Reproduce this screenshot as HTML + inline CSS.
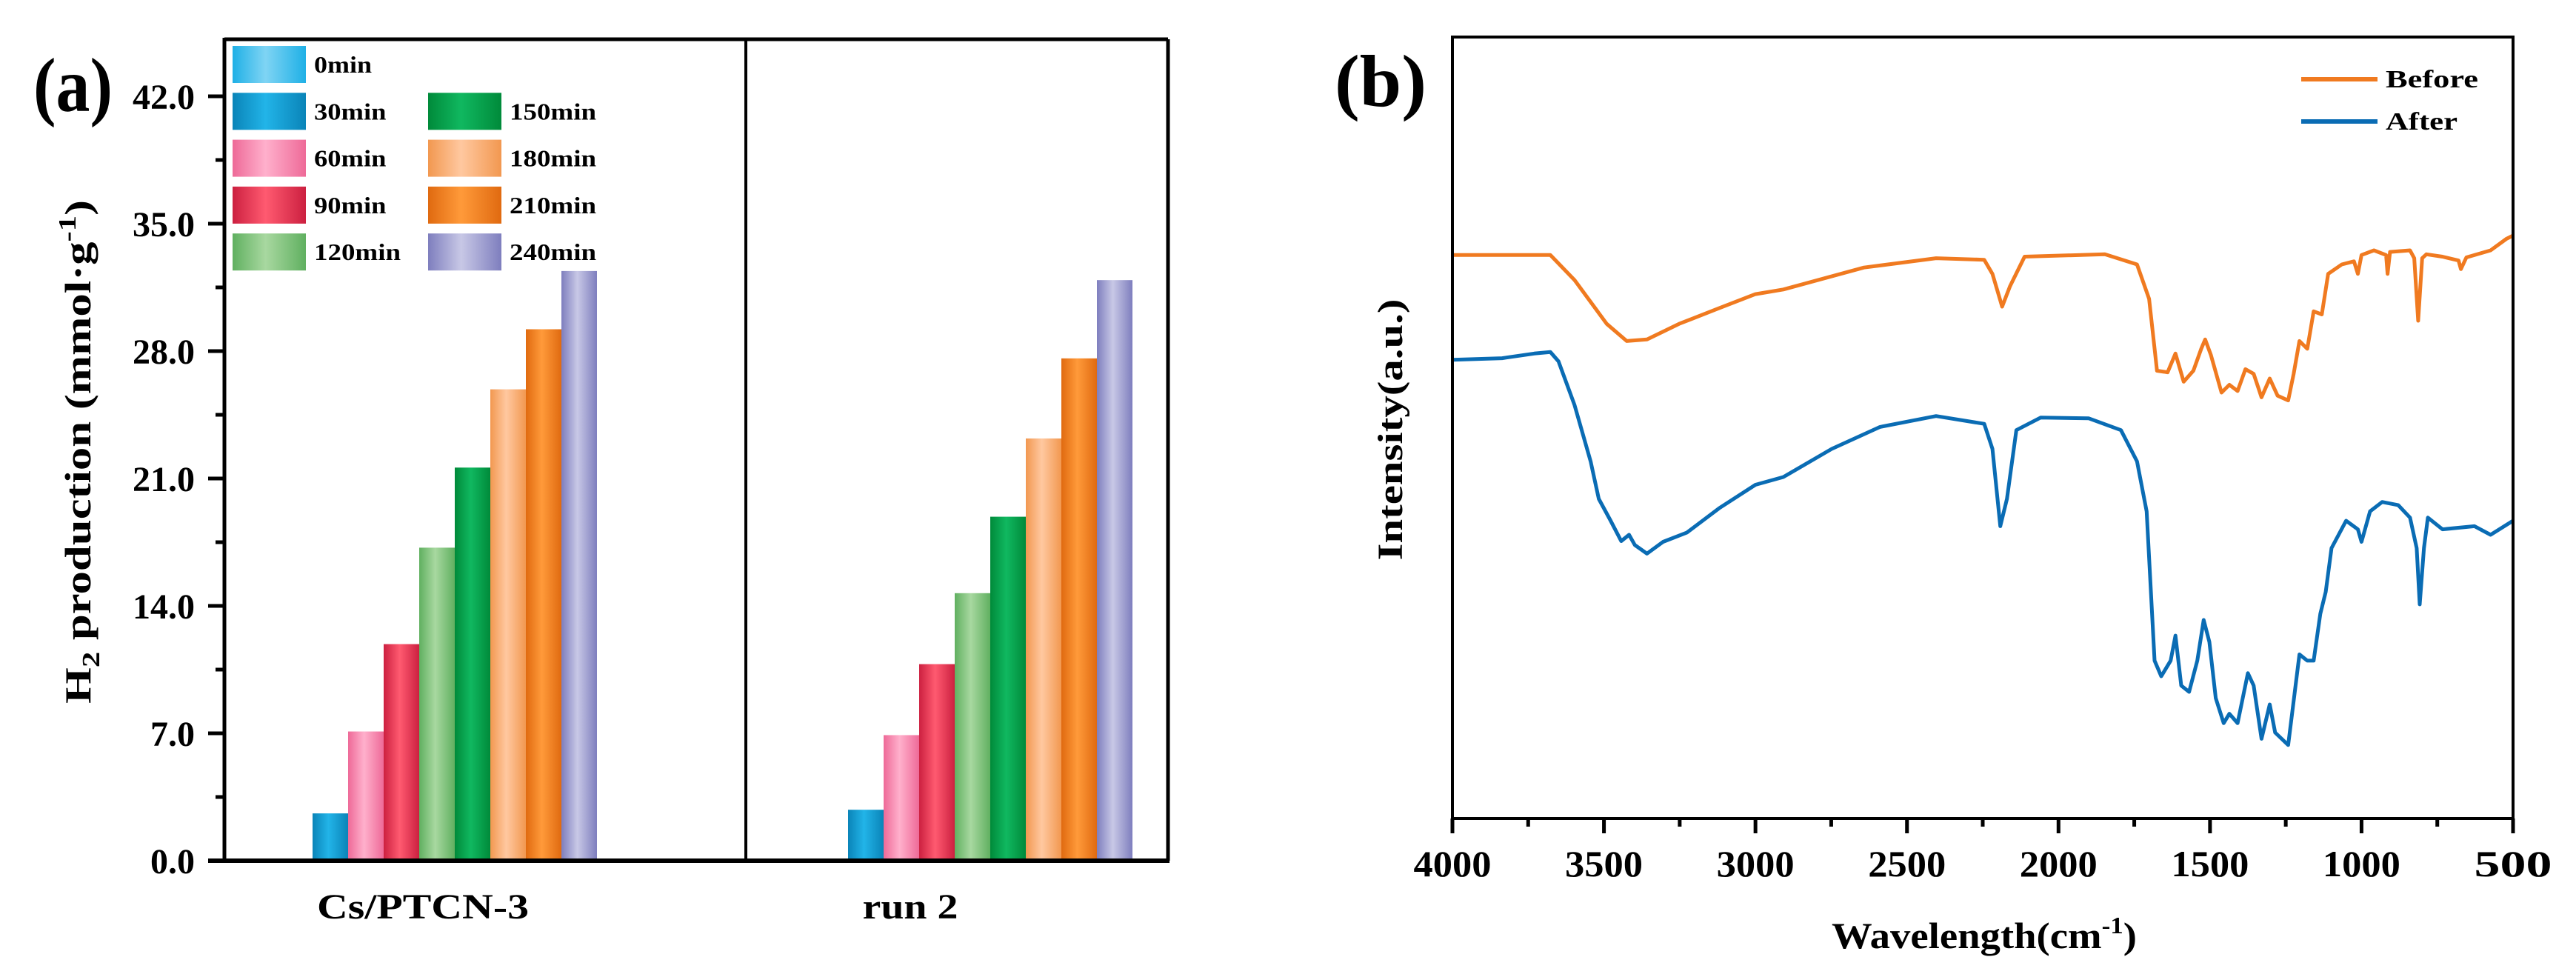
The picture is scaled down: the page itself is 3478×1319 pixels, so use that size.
<!DOCTYPE html>
<html><head><meta charset="utf-8"><style>
html,body{margin:0;padding:0;background:#fff;}
svg{display:block;}
text{font-family:"Liberation Serif",serif;font-weight:bold;fill:#000;}
</style></head><body>
<svg id="fig" width="3478" height="1319" viewBox="0 0 3478 1319" xmlns="http://www.w3.org/2000/svg">
<defs id="defs"></defs>
<g id="panelA"></g>
<g id="panelB"></g>
</svg>
<script>
// ---------- Panel (a) data ----------
const categories = ["Cs/PTCN-3", "run 2"];
const seriesNames = ["0min","30min","60min","90min","120min","150min","180min","210min","240min"];
const valuesRun1 = [0, 2.6, 7.1, 11.9, 17.2, 21.6, 25.9, 29.2, 32.4];
const valuesRun2 = [0, 2.8, 6.9, 10.8, 14.7, 18.9, 23.2, 27.6, 31.9];
const yTicksA = [0, 7, 14, 21, 28, 35, 42];
const yTickLabelsA = ["0.0","7.0","14.0","21.0","28.0","35.0","42.0"];

// ---------- Panel (b) data ----------
const xTicksB = [4000,3500,3000,2500,2000,1500,1000,500];
const beforeWn = [4000,3677,3597,3491,3425,3358,3252,3120,3000,2908,2642,2404,2245,2218,2186,2160,2112,1847,1741,1701,1675,1640,1614,1587,1555,1529,1516,1497,1462,1436,1409,1383,1356,1330,1303,1277,1242,1224,1205,1179,1158,1131,1110,1065,1025,1012,1000,959,919,914,906,840,826,813,800,786,733,680,672,654,574,521,500];
const beforeVal = [72.1,72.1,68.9,63.3,61.1,61.3,63.3,65.3,67.1,67.7,70.5,71.7,71.5,69.7,65.5,68.1,71.9,72.2,70.9,66.5,57.3,57.1,59.5,55.9,57.3,60.1,61.3,59.3,54.5,55.5,54.7,57.5,56.9,53.9,56.3,54.1,53.5,56.9,61.1,60.1,64.9,64.5,69.7,70.9,71.3,69.7,72.1,72.7,72.1,69.7,72.5,72.7,71.7,63.7,71.7,72.2,71.9,71.4,70.3,71.8,72.7,74.2,74.6];
const afterWn = [4000,3836,3730,3677,3650,3597,3544,3517,3478,3443,3417,3398,3358,3305,3226,3120,3000,2908,2748,2589,2404,2245,2218,2192,2170,2139,2059,1900,1794,1741,1709,1683,1661,1630,1614,1595,1569,1542,1521,1502,1481,1455,1436,1409,1375,1356,1330,1303,1285,1242,1205,1179,1158,1136,1118,1099,1051,1012,1000,972,932,879,840,818,808,794,781,733,627,574,500];
const afterVal = [58.7,58.9,59.5,59.7,58.5,52.9,45.7,40.9,38.1,35.5,36.3,35.0,33.9,35.4,36.6,39.7,42.7,43.7,47.3,50.1,51.5,50.5,47.3,37.4,40.9,49.7,51.3,51.2,49.7,45.7,39.3,20.2,18.2,20.2,23.4,17.0,16.2,20.2,25.4,22.6,15.4,12.2,13.4,12.2,18.6,17.0,10.2,14.6,11.0,9.4,21.0,20.2,20.2,26.2,29.0,34.6,38.1,37.0,35.4,39.3,40.5,40.1,38.5,34.6,27.4,34.6,38.5,37.0,37.4,36.3,38.1];

const NS = "http://www.w3.org/2000/svg";
function mk(tag, attrs, parent){ const e=document.createElementNS(NS,tag); for(const k in attrs) e.setAttribute(k,attrs[k]); if(parent) parent.appendChild(e); return e; }

// ---------- Panel (a) ----------
const A = document.getElementById('panelA');
const defs = document.getElementById('defs');
const colors = [["#7fd4f4","#1fb0e6"],["#22b4e8","#0a84b8"],["#ffb0cc","#ee6a98"],["#ff5a70","#cc2040"],["#a8d8a0","#60b060"],["#10b860","#008a3a"],["#ffc8a0","#f29850"],["#ff9a3a","#e06a10"],["#c8c8e6","#7e7ebe"]];
colors.forEach((c,i)=>{
  const g = mk('linearGradient',{id:'g'+i,x1:'0',x2:'1',y1:'0',y2:'0'},defs);
  mk('stop',{offset:'0','stop-color':c[1]},g);
  mk('stop',{offset:'0.45','stop-color':c[0]},g);
  mk('stop',{offset:'1','stop-color':c[1]},g);
});
const aL=303, aR=1577, aTop=53, aBot=1162;
const yA = v => aBot - v*(172/7);
const catCenter = i => 590 + i*723;
const barW = 48;

[valuesRun1, valuesRun2].forEach((vals,ci)=>{
  vals.forEach((v,j)=>{
    if(v<=0) return;
    const x = catCenter(ci) - seriesNames.length*barW/2 + j*barW;
    const r = mk('rect',{x:x,y:yA(v),width:barW,height:aBot-yA(v),fill:'url(#g'+j+')'},A);
    
    
  });
});
mk('line',{x1:aL,y1:aTop,x2:aR,y2:aTop,stroke:'#000','stroke-width':5,},A);
mk('line',{x1:aR,y1:aTop,x2:aR,y2:aBot,stroke:'#000','stroke-width':5,},A);
mk('line',{x1:1007,y1:aTop,x2:1007,y2:aBot,stroke:'#000','stroke-width':4,},A);
mk('line',{x1:aL,y1:aTop-2,x2:aL,y2:aBot+3,stroke:'#000','stroke-width':5,},A);
mk('line',{x1:aL-22,y1:aBot,x2:aR+2,y2:aBot,stroke:'#000','stroke-width':6,},A);
yTicksA.forEach((t,i)=>{
  const y=yA(t);
  const tk = mk('line',{x1:aL-22,y1:y,x2:aL,y2:y,stroke:'#000','stroke-width':5},A);
  
  
  const lab = mk('text',{x:263,y:y+17,'font-size':48,'text-anchor':'end'},A);
  lab.textContent = yTickLabelsA[i];
  
  
  if(i<yTicksA.length-1){
    const ym=yA(t+3.5);
    const mt = mk('line',{x1:aL-12,y1:ym,x2:aL,y2:ym,stroke:'#000','stroke-width':5},A);
    
    
  }
});
const c1 = mk('text',{x:571,y:1240,'font-size':48,'text-anchor':'middle',textLength:286,lengthAdjust:'spacingAndGlyphs'},A);
c1.textContent = categories[0];


const c2 = mk('text',{x:1229,y:1240,'font-size':48,'text-anchor':'middle',textLength:129,lengthAdjust:'spacingAndGlyphs'},A);
c2.textContent = categories[1];



seriesNames.forEach((n,j)=>{
  const col = j<=4 ? 0 : 1;
  const row = j<=4 ? j : j-4;
  const sx = col===0?314:578, cy = 87 + row*63.3;
  const sw = mk('rect',{x:sx,y:cy-25,width:99,height:50,fill:'url(#g'+j+')'},A);
  
  
  const t = mk('text',{x:sx+110,y:cy+11,'font-size':32,textLength:(n.length*19.5),lengthAdjust:'spacingAndGlyphs'},A);
  t.textContent = n;
  
  
});
const yt = mk('text',{transform:'translate(122,610) rotate(-90)','font-size':50,'text-anchor':'middle',textLength:680,lengthAdjust:'spacingAndGlyphs'},A);


yt.innerHTML = 'H<tspan font-size="34" dy="12">2</tspan><tspan dy="-12"> production (mmol·g</tspan><tspan font-size="34" dy="-20">-1</tspan><tspan dy="20">)</tspan>';
const pa = mk('text',{x:45,y:150,'font-size':104,textLength:107,lengthAdjust:'spacingAndGlyphs'},A);
pa.textContent='(a)';



// ---------- Panel (b) ----------
const B = document.getElementById('panelB');
const bL=1961, bR=3393, bTop=50, bBot=1105;
const xB = w => bL + (4000-w)/3500*(bR-bL);
const yB = v => bBot - v/100*(bBot-bTop);
function linePath(wn, val){ return wn.map((w,i)=>(i?'L':'M')+xB(w).toFixed(1)+','+yB(val[i]).toFixed(1)).join(' '); }
const pb = mk('path',{d:linePath(beforeWn,beforeVal),fill:'none',stroke:'#f07a20','stroke-width':5,'stroke-linejoin':'round'},B);


const pa2 = mk('path',{d:linePath(afterWn,afterVal),fill:'none',stroke:'#0a6cb4','stroke-width':5,'stroke-linejoin':'round'},B);


mk('rect',{x:bL,y:bTop,width:bR-bL,height:bBot-bTop,fill:'none',stroke:'#000','stroke-width':4,},B);
xTicksB.forEach((t,i)=>{
  const x=xB(t);
  const tk = mk('line',{x1:x,y1:bBot,x2:x,y2:bBot+20,stroke:'#000','stroke-width':5},B);
  
  
  const lab = mk('text',{x:x,y:1183,'font-size':50,'text-anchor':'middle',textLength:105,lengthAdjust:'spacingAndGlyphs'},B);
  lab.textContent = String(t);
  
  
  if(i<xTicksB.length-1){
    const xm=xB(t-250);
    const mt = mk('line',{x1:xm,y1:bBot,x2:xm,y2:bBot+11,stroke:'#000','stroke-width':5},B);
    
    
  }
});
const xt = mk('text',{x:2679,y:1280,'font-size':50,'text-anchor':'middle',textLength:412,lengthAdjust:'spacingAndGlyphs'},B);
xt.innerHTML = 'Wavelength(cm<tspan font-size="32" dy="-20">-1</tspan><tspan dy="20">)</tspan>';


const yt2 = mk('text',{transform:'translate(1893,580) rotate(-90)','font-size':48,'text-anchor':'middle',textLength:353,lengthAdjust:'spacingAndGlyphs'},B);
yt2.textContent='Intensity(a.u.)';


const pbl = mk('text',{x:1802,y:143,'font-size':100,textLength:124,lengthAdjust:'spacingAndGlyphs'},B);
pbl.textContent='(b)';


[["Before","#f07a20",107,125],["After","#0a6cb4",164,97]].forEach(l=>{
  const ln = mk('line',{x1:3107,y1:l[2],x2:3210,y2:l[2],stroke:l[1],'stroke-width':6},B);
  
  
  const t = mk('text',{x:3221,y:l[2]+11,'font-size':34,textLength:l[3],lengthAdjust:'spacingAndGlyphs'},B);
  t.textContent=l[0];
  
  
});
</script>
</body></html>
